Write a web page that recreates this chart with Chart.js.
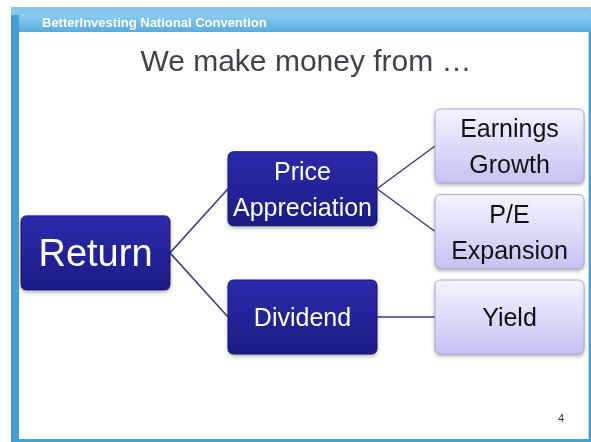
<!DOCTYPE html>
<html>
<head>
<meta charset="utf-8">
<script src="https://cdn.jsdelivr.net/npm/chart.js@4"></script>
<style>
  body { margin: 0; background: #fff; }
  canvas { display: block; }
</style>
</head>
<body>
<canvas id="myChart" width="591" height="442"></canvas>
<script>
// tree data
const nodeLabels = ['Return', 'Price\nAppreciation', 'Dividend', 'Earnings\nGrowth', 'P/E\nExpansion', 'Yield'];
const nodeLevels = [0, 1, 1, 2, 2, 2];
const nodeParents = [null, 0, 0, 1, 1, 2];

const headerText = 'BetterInvesting National Convention';
const titleText = 'We make money from \u2026';
const pageNumber = '4';

// layout (px)
const X0 = 95.5, X_STEP = 207;
const Y0 = 146, Y_STEP = 85.5;
const BOX_W = 149, BOX_H = 74;
const W = 591, H = 442;

// rows: leaves one after another, parents in the middle of their children
const nodeRows = new Array( nodeLabels.length ).fill( null );
let nextRow = 0;
function placeRow( i ) {
  const kids = nodeParents.map( ( p, k ) => p === i ? k : -1 ).filter( k => k >= 0 );
  if ( !kids.length ) {
    nodeRows[i] = nextRow++;
  } else {
    kids.forEach( placeRow );
    nodeRows[i] = kids.reduce( ( s, k ) => s + nodeRows[k], 0 ) / kids.length;
  }
}
placeRow( 0 );

const halfW = ( BOX_W / 2 ) / X_STEP;
const edgeSets = [];
nodeParents.forEach( ( p, i ) => {
  if ( p === null ) return;
  edgeSets.push( {
    type: 'scatter',
    showLine: true,
    data: [
      { x: nodeLevels[p] + halfW, y: nodeRows[p] },
      { x: nodeLevels[i] - halfW, y: nodeRows[i] },
    ],
    borderColor: '#3a3a8c',
    borderWidth: 1.5,
    pointRadius: 0,
  } );
} );

const nodeSet = {
  type: 'scatter',
  data: nodeLabels.map( ( l, i ) => ( { x: nodeLevels[i], y: nodeRows[i] } ) ),
  pointRadius: 0,
};

function roundRect( ctx, x, y, w, h, r ) {
  ctx.beginPath();
  ctx.moveTo( x + r, y );
  ctx.lineTo( x + w - r, y );
  ctx.quadraticCurveTo( x + w, y, x + w, y + r );
  ctx.lineTo( x + w, y + h - r );
  ctx.quadraticCurveTo( x + w, y + h, x + w - r, y + h );
  ctx.lineTo( x + r, y + h );
  ctx.quadraticCurveTo( x, y + h, x, y + h - r );
  ctx.lineTo( x, y + r );
  ctx.quadraticCurveTo( x, y, x + r, y );
  ctx.closePath();
}

const slidePlugin = {
  id: 'slide',
  beforeDraw( chart ) {
    const ctx = chart.ctx;
    ctx.save();
    ctx.fillStyle = '#ffffff';
    ctx.fillRect( 0, 0, W, H );
    // blue frame
    ctx.fillStyle = '#45a0d6';
    ctx.fillRect( 11, 7, W - 11, H - 7 );
    ctx.fillStyle = '#85c8ec';
    ctx.fillRect( 11, 7, W - 11, 8 );
    // header bar
    const g = ctx.createLinearGradient( 0, 13, 0, 32 );
    g.addColorStop( 0, '#8fd0f2' );
    g.addColorStop( 1, '#58ade0' );
    ctx.fillStyle = g;
    roundRect( ctx, 19, 13, W - 19, 20, 4 );
    ctx.fill();
    // content
    ctx.fillStyle = '#ffffff';
    ctx.fillRect( 19, 32, 570, 407 );
    ctx.fillStyle = '#c9d4da';
    ctx.fillRect( 588, 32, 1, 407 );

    ctx.fillStyle = '#ffffff';
    ctx.font = 'bold 13px "Liberation Sans", Arial, sans-serif';
    ctx.textBaseline = 'middle';
    ctx.textAlign = 'left';
    ctx.fillText( headerText, 42, 23 );

    ctx.fillStyle = '#404448';
    ctx.font = '30px "Liberation Sans", Arial, sans-serif';
    ctx.textAlign = 'center';
    ctx.fillText( titleText, 306, 63 );

    ctx.fillStyle = '#333333';
    ctx.font = '11px "Liberation Sans", Arial, sans-serif';
    ctx.fillText( pageNumber, 561, 419 );
    ctx.restore();
  },
  afterDatasetsDraw( chart ) {
    const ctx = chart.ctx;
    const meta = chart.getDatasetMeta( chart.data.datasets.length - 1 );
    meta.data.forEach( ( pt, i ) => {
      const dark = nodeLevels[i] < 2;
      const x = pt.x - BOX_W / 2, y = pt.y - BOX_H / 2;
      ctx.save();
      ctx.shadowColor = 'rgba(0,0,0,0.35)';
      ctx.shadowBlur = 4;
      ctx.shadowOffsetY = 2;
      const g = ctx.createLinearGradient( 0, y, 0, y + BOX_H );
      if ( dark ) {
        g.addColorStop( 0, '#2b2bab' );
        g.addColorStop( 1, '#1b1b86' );
      } else {
        g.addColorStop( 0, '#f4f4ff' );
        g.addColorStop( 1, '#c3c3f2' );
      }
      ctx.fillStyle = g;
      roundRect( ctx, x, y, BOX_W, BOX_H, 6 );
      ctx.fill();
      ctx.shadowColor = 'transparent';
      ctx.strokeStyle = dark ? '#16166a' : '#a9a9dc';
      ctx.lineWidth = 1;
      ctx.stroke();

      const lines = nodeLabels[i].split( '\n' );
      const size = nodeLevels[i] === 0 ? 38 : 25;
      ctx.font = size + 'px "Liberation Sans", Arial, sans-serif';
      ctx.fillStyle = dark ? '#ffffff' : '#111111';
      ctx.textAlign = 'center';
      ctx.textBaseline = 'middle';
      const lh = 36;
      lines.forEach( ( t, k ) => {
        ctx.fillText( t, pt.x, pt.y + 2.5 + ( k - ( lines.length - 1 ) / 2 ) * lh );
      } );
      ctx.restore();
    } );
  },
};

new Chart( document.getElementById( 'myChart' ), {
  type: 'scatter',
  data: { datasets: [...edgeSets, nodeSet] },
  options: {
    responsive: false,
    animation: false,
    devicePixelRatio: 1,
    layout: { padding: 0 },
    scales: {
      x: { display: false, min: -X0 / X_STEP, max: ( W - X0 ) / X_STEP },
      y: { display: false, reverse: true, min: -Y0 / Y_STEP, max: ( H - Y0 ) / Y_STEP },
    },
    plugins: {
      legend: { display: false },
      tooltip: { enabled: false },
    },
  },
  plugins: [slidePlugin],
} );
</script>
</body>
</html>
